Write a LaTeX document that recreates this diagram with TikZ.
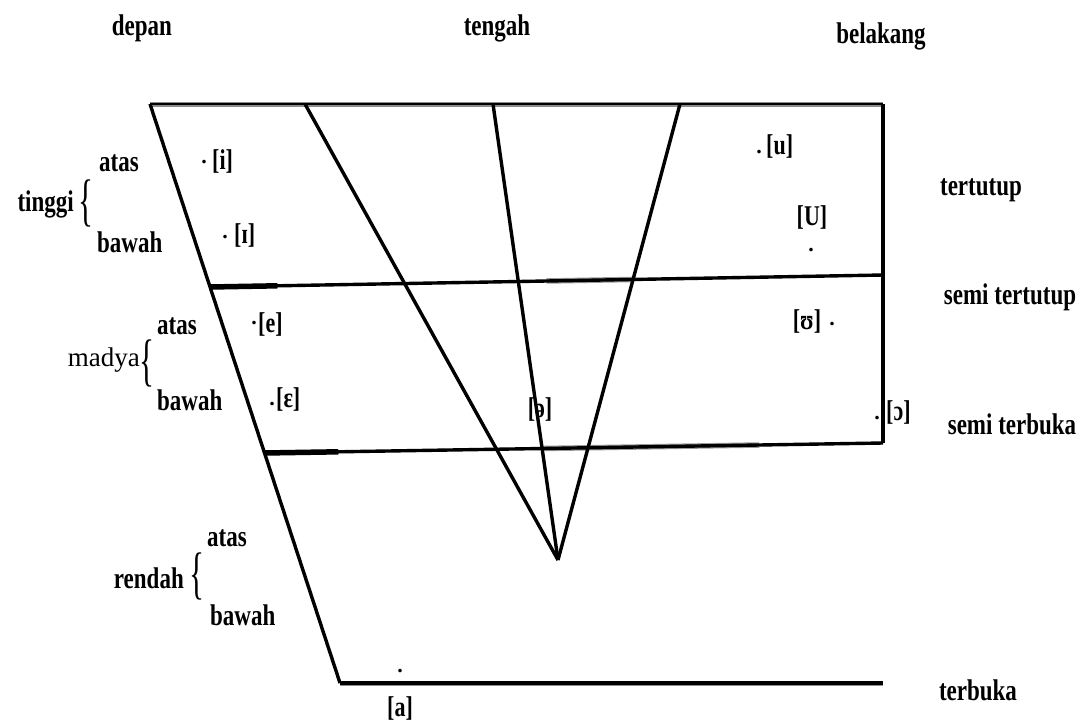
\documentclass[tikz,border=0pt]{standalone}
\usepackage{fontspec}
\setmainfont{Liberation Serif}
\usetikzlibrary{calc}
\newcommand{\tl}[1]{\scalebox{1}[1.3]{\bfseries #1}}
\tikzset{
  lab/.style={inner sep=0pt, font=\fontsize{23}{25}\selectfont},
  ipa/.style={inner sep=0pt, font=\fontsize{22}{24}\selectfont\bfseries},
  dotm/.style={inner sep=0pt, font=\fontsize{22}{24}\selectfont\bfseries},
  edge/.style={line width=3.4pt, black},
  brc/.style={inner sep=0pt, font=\fontsize{26}{28}\selectfont}
}
\begin{document}
\begin{tikzpicture}[x=1pt,y=-1pt]
\useasboundingbox (0,0) rectangle (1090,726);
% frame coordinates
\coordinate (tl) at (150,104);
\coordinate (tr) at (883,104);
\coordinate (bl) at (340,683);
\coordinate (br) at (883,683);
\coordinate (l1) at (210,287);
\coordinate (r1) at (883,275);
\coordinate (l2) at (264,453);
\coordinate (r2) at (883,443);
\coordinate (t2) at (305,104);
\coordinate (t3) at (493,104);
\coordinate (t4) at (680,104);
\coordinate (v) at (558,560);
% lines
\draw[line width=5pt, black!45] (tl) -- (tr);
\draw[line width=2.2pt, black] (tl) -- (tr);
\draw[edge] (tl) -- (bl);
\draw[edge] (tr) -- (r2);
\draw[line width=5pt, black!45] (bl) -- (br);
\draw[edge] (bl) -- (br);
\draw[line width=5.5pt] (l1) -- ($(l1)!0.1!(r1)$);
\draw[line width=5.5pt, black!40] ($(l1)!0.5!(r1)$) -- ($(l1)!0.63!(r1)$);
\draw[edge] (l1) -- (r1);
\draw[line width=5.5pt] (l2) -- ($(l2)!0.12!(r2)$);
\draw[line width=5.5pt, black!40] ($(l2)!0.45!(r2)$) -- ($(l2)!0.8!(r2)$);
\draw[edge] (l2) -- (r2);
\draw[edge] (t2) -- (v);
\draw[edge] (t3) -- (v);
\draw[edge] (t4) -- (v);
% column labels
\node[lab] (depan) at (142,28) {\tl{depan}};
\node[lab] (tengah) at (497,28) {\tl{tengah}};
\node[lab] (belakang) at (881,36) {\tl{belakang}};
% row labels right
\node[lab] (tertutup) at (981,190) {\tl{tertutup}};
\node[lab] (semitertutup) at (1010,297) {\tl{semi tertutup}};
\node[lab] (semiterbuka) at (1012,424) {\tl{semi terbuka}};
\node[lab] (terbuka) at (978,690) {\tl{terbuka}};
% left groups
\node[lab, anchor=east] (tinggi) at (74,204) {\tl{tinggi}};
\node[brc] (b1) at (86,203) {\scalebox{1.2}[2.2]{\{}};
\node[lab, anchor=west] (atas1) at (99,163) {\tl{atas}};
\node[lab, anchor=west] (bawah1) at (97,242) {\tl{bawah}};
\node[inner sep=0pt, anchor=east, font=\fontsize{27}{30}\selectfont] (madya) at (140,360) {madya};
\node[brc] (b2) at (147,363) {\scalebox{1.2}[2.2]{\{}};
\node[lab, anchor=west] (atas2) at (157,326) {\tl{atas}};
\node[lab, anchor=west] (bawah2) at (157,400) {\tl{bawah}};
\node[lab, anchor=east] (rendah) at (184,578) {\tl{rendah}};
\node[brc] (b3) at (197,576) {\scalebox{1.2}[2.2]{\{}};
\node[lab, anchor=west] (atas3) at (207,538) {\tl{atas}};
\node[lab, anchor=west] (bawah3) at (210,615) {\tl{bawah}};
% vowels
\node[dotm] (di) at (204,162) {.};
\node[ipa, anchor=west] (i) at (212,161) {\scalebox{1}[1.3]{[i]}};
\node[dotm] (dI) at (225,237) {.};
\node[ipa, anchor=west] (I) at (234,235) {\scalebox{1}[1.3]{[ɪ]}};
\node[dotm] (de) at (254,323) {.};
\node[ipa, anchor=west] (e) at (258,324) {\scalebox{1}[1.3]{[e]}};
\node[dotm] (deps) at (272,404) {.};
\node[ipa, anchor=west] (eps) at (276,399) {\scalebox{1}[1.3]{[ɛ]}};
\node[ipa] (schwa) at (540,409) {\scalebox{1}[1.3]{[ə]}};
\node[dotm] (du) at (759,152) {.};
\node[ipa, anchor=west] (u) at (766,146) {\scalebox{1}[1.3]{[u]}};
\node[ipa] (U) at (812,217) {\scalebox{1}[1.3]{[U]}};
\node[dotm] (dU) at (811,250) {.};
\node[ipa] (ups) at (807,321) {\scalebox{1}[1.3]{[ʊ]}};
\node[dotm] (dups) at (832,324) {.};
\node[dotm] (dO) at (877,418) {.};
\node[ipa, anchor=west] (O) at (886,412) {\scalebox{1}[1.3]{[ɔ]}};
\node[dotm] (da) at (400,671) {.};
\node[ipa] (a) at (400,708) {\scalebox{1}[1.3]{[a]}};
\end{tikzpicture}
\end{document}
